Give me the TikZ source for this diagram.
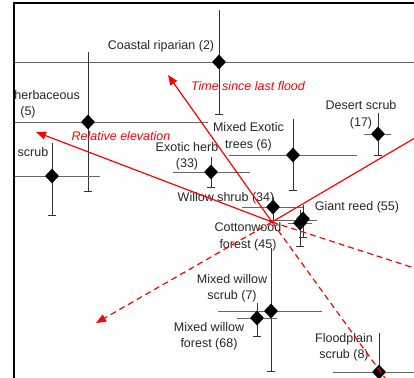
\documentclass[tikz,border=0pt]{standalone}
\usepackage{fontspec}
\setmainfont{Liberation Sans}
\usetikzlibrary{shapes.geometric,arrows.meta,positioning}

\tikzset{
  site/.style={diamond, fill=black, inner sep=0pt, minimum width=14pt, minimum height=15pt},
  lbl/.style={align=center, text=black!85, inner sep=0pt, font=\fontsize{12.5}{16.5}\selectfont},
  vbar/.style={black!80, line width=0.9pt, -{Bar[width=8pt,line width=0.9pt]}},
  hbar/.style={black!60, line width=0.9pt},
  vec/.style={red, line width=1.2pt, -{Triangle[length=10pt,width=8pt]}},
  dvec/.style={vec, dash pattern=on 6pt off 4pt},
  vecname/.style={text=red, inner sep=0pt, font=\fontsize{12.5}{15}\selectfont\itshape},
}

\begin{document}
\begin{tikzpicture}[x=1pt, y=-1pt]
\useasboundingbox (0,0) rectangle (414,377);
\clip (0,0) rectangle (414,377);

% error bars
\coordinate (coastal-t) at (219,10);  \coordinate (coastal-b) at (219,115);
\coordinate (coastal-l) at (14,62);   \coordinate (coastal-r) at (420,62);
\coordinate (herbac-t) at (88,52);    \coordinate (herbac-b) at (88,192);
\coordinate (herbac-l) at (14,122);   \coordinate (herbac-r) at (208,122);
\coordinate (scrub-t) at (52,143);    \coordinate (scrub-b) at (52,216);
\coordinate (scrub-l) at (14,176);    \coordinate (scrub-r) at (100,176);
\coordinate (exherb-t) at (211,157);  \coordinate (exherb-b) at (211,188);
\coordinate (exherb-l) at (173,172);  \coordinate (exherb-r) at (250,172);
\coordinate (mixexo-t) at (293,119);  \coordinate (mixexo-b) at (293,191);
\coordinate (mixexo-l) at (229,155);  \coordinate (mixexo-r) at (357,155);
\coordinate (desert-t) at (378,113);  \coordinate (desert-b) at (378,156);
\coordinate (desert-l) at (364,134);  \coordinate (desert-r) at (391,134);
\coordinate (willow-t) at (273,197);  \coordinate (willow-b) at (273,221);
\coordinate (willow-l) at (242,207);  \coordinate (willow-r) at (303,207);
\coordinate (reed-t) at (303,205);    \coordinate (reed-b) at (303,238);
\coordinate (reed-l) at (272,220);    \coordinate (reed-r) at (317,220);
\coordinate (cotton-t) at (300,210);  \coordinate (cotton-b) at (300,247);
\coordinate (cotton-l) at (288,223);  \coordinate (cotton-r) at (312,223);
\coordinate (mwscrub-t) at (271,248); \coordinate (mwscrub-b) at (271,372);
\coordinate (mwscrub-l) at (218,311); \coordinate (mwscrub-r) at (322,311);
\coordinate (mwforest-t) at (257,303); \coordinate (mwforest-b) at (257,337);
\coordinate (mwforest-l) at (237,318); \coordinate (mwforest-r) at (277,318);
\coordinate (flood-t) at (379,333);   \coordinate (flood-b) at (379,400);
\coordinate (flood-l) at (333,372);   \coordinate (flood-r) at (420,372);

\draw[hbar] (coastal-l) -- (coastal-r);   \draw[vbar] (coastal-t) -- (coastal-b);
\draw[hbar] (herbac-l) -- (herbac-r);     \draw[vbar] (herbac-t) -- (herbac-b);
\draw[hbar] (scrub-l) -- (scrub-r);       \draw[vbar] (scrub-t) -- (scrub-b);
\draw[hbar] (exherb-l) -- (exherb-r);     \draw[vbar] (exherb-t) -- (exherb-b);
\draw[hbar] (mixexo-l) -- (mixexo-r);     \draw[vbar] (mixexo-t) -- (mixexo-b);
\draw[hbar] (desert-l) -- (desert-r);     \draw[vbar] (desert-t) -- (desert-b);
\draw[hbar] (willow-l) -- (willow-r);     \draw[vbar] (willow-t) -- (willow-b);
\draw[hbar] (reed-l) -- (reed-r);         \draw[vbar] (reed-t) -- (reed-b);
\draw[hbar] (cotton-l) -- (cotton-r);     \draw[vbar] (cotton-t) -- (cotton-b);
\draw[hbar] (mwscrub-l) -- (mwscrub-r);   \draw[vbar] (mwscrub-t) -- (mwscrub-b);
\draw[hbar] (mwforest-l) -- (mwforest-r); \draw[vbar] (mwforest-t) -- (mwforest-b);
\draw[hbar] (flood-l) -- (flood-r);       \draw[vbar] (flood-t) -- (flood-b);

% group centroids
\node[site] (coastal) at (219,62) {};
\node[site] (herbac) at (88,122) {};
\node[site] (scrub) at (52,176) {};
\node[site] (exherb) at (211,172) {};
\node[site] (mixexo) at (293,155) {};
\node[site] (desert) at (378,134) {};
\node[site] (willow) at (273,207) {};
\node[site] (cotton) at (300,223) {};
\node[site] (reed) at (303,219) {};
\node[site] (mwscrub) at (271,311) {};
\node[site] (mwforest) at (257,318) {};
\node[site] (flood) at (379,372) {};

% labels
\node[lbl] (coastal-n) at (161,46) {Coastal riparian (2)};
\node[lbl, anchor=east] (herbac-n) at (80,95) {herbaceous};
\node[lbl] (herbac-k) at (28,112) {(5)};
\node[lbl] (scrub-n) at (33,152) {scrub};
\node[lbl] (exherb-n) at (187,156.5) {Exotic herb\\(33)};
\node[lbl] (mixexo-n) at (248.5,137) {Mixed Exotic\\trees (6)};
\node[lbl] (desert-n) at (361,115) {Desert scrub\\(17)};
\node[lbl] (willow-n) at (226,198) {Willow shrub (34)};
\node[lbl] (reed-n) at (357,207) {Giant reed (55)};
\node[lbl] (cotton-n) at (248,237) {Cottonwood\\forest (45)};
\node[lbl] (mwscrub-n) at (232,288.5) {Mixed willow\\scrub (7)};
\node[lbl] (mwforest-n) at (209,336.5) {Mixed willow\\forest (68)};
\node[lbl] (flood-n) at (344,347.5) {Floodplain\\scrub (8)};

% frame
\draw[line width=2.5pt] (14,380) -- (14,3) -- (418,3);

% fitted vectors
\coordinate (origin) at (272,222);
\coordinate (tsf) at (168,75);
\coordinate (relev) at (36,132);
\coordinate (dash-ll) at (96,323);
\coordinate (up-r) at (442,122);
\coordinate (dash-r) at (442,277);
\coordinate (dash-lr) at (398,396);

\draw[vec] (origin) -- (tsf);
\draw[vec] (origin) -- (relev);
\draw[vec, -] (origin) -- (up-r);
\draw[dvec] (origin) -- (dash-ll);
\draw[dvec, -] (origin) -- (dash-r);
\draw[dvec, -] (origin) -- (dash-lr);

\node[vecname] (tsf-n) at (248,86) {Time since last flood};
\node[vecname] (relev-n) at (121,136) {Relative elevation};
\end{tikzpicture}
\end{document}
